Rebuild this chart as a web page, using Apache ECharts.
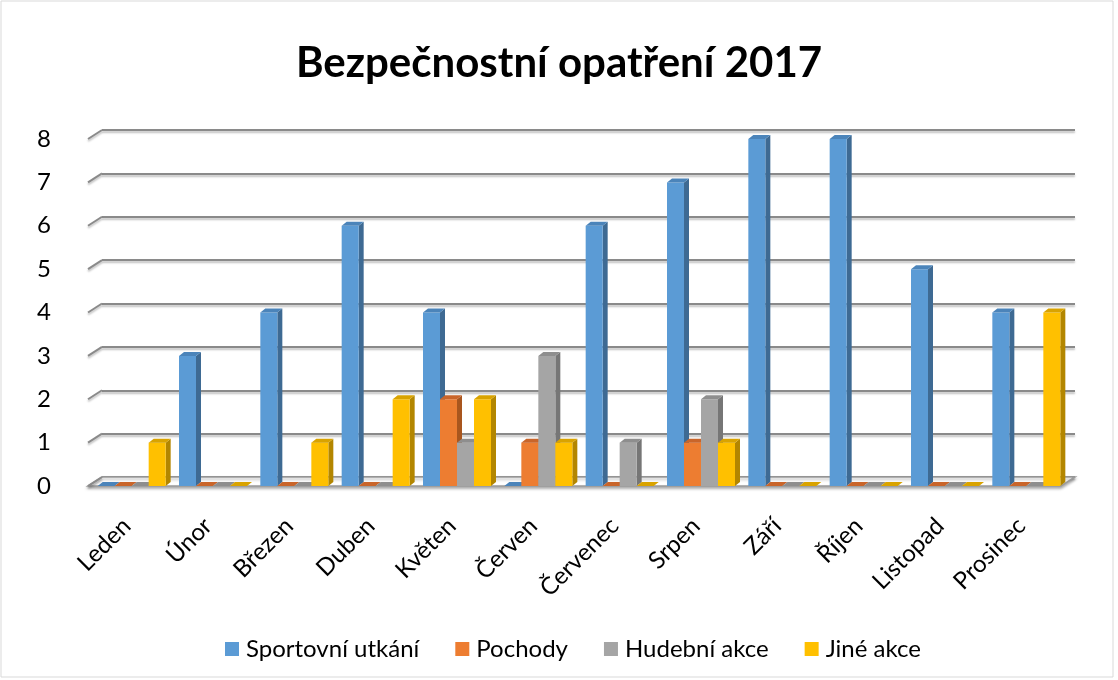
<!DOCTYPE html>
<html>
<head>
<meta charset="utf-8">
<script src="https://cdn.jsdelivr.net/npm/echarts@6/dist/echarts.min.js"></script>
<style>
html, body { margin: 0; padding: 0; background: #fff; }
#chart { width: 1118px; height: 680px; }
</style>
</head>
<body>
<div id="chart"></div>
<script>
var months = ['Leden', 'Únor', 'Březen', 'Duben', 'Květen', 'Červen', 'Červenec', 'Srpen', 'Září', 'Říjen', 'Listopad', 'Prosinec'];
var sportovni = [0, 3, 4, 6, 4, 0, 6, 7, 8, 8, 5, 4];
var pochody = [0, 0, 0, 0, 2, 1, 0, 1, 0, 0, 0, 0];
var hudebni = [0, 0, 0, 0, 1, 3, 1, 2, 0, 0, 0, 0];
var jine = [1, 0, 1, 2, 2, 1, 0, 1, 0, 0, 0, 4];
var yTicks = [0, 1, 2, 3, 4, 5, 6, 7, 8];

var names = ['Sportovní utkání', 'Pochody', 'Hudební akce', 'Jiné akce'];
var values = [sportovni, pochody, hudebni, jine];
var frontCol = ['#5B9BD5', '#ED7D31', '#A5A5A5', '#FFC000'];
var sideCol = ['#3E6A93', '#A9561E', '#767676', '#B38600'];
var topCol = ['#4B84BA', '#C9652A', '#8E8E8E', '#D9A300'];

var FONT = 'Lato';
var DX = 5, DY = 4;        // bar depth
var WX = 14, WY = 9;       // wall depth (front edge -> back wall)

var chart = echarts.init(document.getElementById('chart'));

function bar3d(k) {
    return function (params, api) {
        var i = api.value(0), v = api.value(1);
        var p = api.coord([i, v]);
        var p0 = api.coord([i, 0]);
        var band = api.size([1, 0])[0];
        var gw = band * 0.836, w = gw / 4;
        var x = p[0] - gw / 2 + k * w;
        var yT = p[1], yB = p0[1];
        return {
            type: 'group',
            children: [
                { type: 'polygon', shape: { points: [[x + w, yT], [x + w + DX, yT - DY], [x + w + DX, yB - DY], [x + w, yB]] }, style: { fill: sideCol[k] } },
                { type: 'rect', shape: { x: x, y: yT, width: w, height: yB - yT }, style: { fill: frontCol[k] } },
                { type: 'polygon', shape: { points: [[x, yT], [x + DX, yT - DY], [x + w + DX, yT - DY], [x + w, yT]] }, style: { fill: topCol[k] } }
            ]
        };
    };
}

// rotated month labels under each category
function monthLabel(params, api) {
    var i = api.value(0);
    var p = api.coord([i, 0]);
    return {
        type: 'text',
        x: p[0] - 5,
        y: p[1] + 36,
        rotation: Math.PI / 4,
        style: {
            text: months[i],
            align: 'right',
            verticalAlign: 'middle',
            fontFamily: FONT,
            fontSize: 24,
            fill: '#000'
        }
    };
}

// left wall edges + floor, drawn on the back grid
function wallItem(params, api) {
    var t = api.value(1);
    var p = api.coord([0, t]);
    var pr = api.coord([1, t]);
    var kids = [{
        type: 'line',
        shape: { x1: p[0], y1: p[1], x2: p[0] - WX, y2: p[1] + WY },
        style: { stroke: '#8a8a8a', lineWidth: 2, shadowColor: 'rgba(0,0,0,0.25)', shadowOffsetY: 2, shadowBlur: 2 }
    }];
    if (t === 0) {
        kids.unshift({
            type: 'polygon',
            shape: { points: [[p[0], p[1]], [pr[0], pr[1]], [pr[0] - WX, pr[1] + WY], [p[0] - WX, p[1] + WY]] },
            style: { fill: '#ffffff', stroke: '#9a9a9a', lineWidth: 1.5, shadowColor: 'rgba(0,0,0,0.3)', shadowOffsetY: 2, shadowBlur: 3 }
        });
    }
    return { type: 'group', children: kids };
}

var series = [{
    type: 'custom',
    xAxisIndex: 1,
    yAxisIndex: 1,
    renderItem: wallItem,
    data: yTicks.map(function (t) { return [0, t]; }),
    silent: true,
    z: 1
}, {
    type: 'custom',
    xAxisIndex: 0,
    yAxisIndex: 0,
    renderItem: monthLabel,
    data: months.map(function (m, i) { return [i, 0]; }),
    silent: true,
    clip: false,
    z: 2
}];
names.forEach(function (n, k) {
    series.push({
        name: n,
        type: 'custom',
        xAxisIndex: 0,
        yAxisIndex: 0,
        renderItem: bar3d(k),
        itemStyle: { color: frontCol[k] },
        data: values[k].map(function (v, i) { return [i, v]; }),
        z: 5 + k
    });
});

chart.setOption({
    animation: false,
    backgroundColor: '#ffffff',
    textStyle: { fontFamily: FONT },
    title: {
        text: 'Bezpečnostní opatření 2017',
        left: 'center',
        top: 37,
        textStyle: { fontFamily: FONT, fontSize: 42, fontWeight: 'bold', color: '#000' }
    },
    legend: {
        data: names,
        top: 632,
        left: 220,
        icon: 'rect',
        itemWidth: 14,
        itemHeight: 14,
        itemGap: 36,
        textStyle: { fontFamily: FONT, fontSize: 24, color: '#000', padding: [0, 0, 0, 2] }
    },
    graphic: [{
        type: 'rect',
        shape: { x: 1, y: 1, width: 1112, height: 676 },
        style: { fill: 'none', stroke: '#d9d9d9', lineWidth: 1 },
        silent: true
    }],
    grid: [
        { left: 91, right: 51, top: 139, bottom: 194 },
        { left: 102, right: 43, top: 130, bottom: 203 }
    ],
    xAxis: [
        { type: 'category', gridIndex: 0, data: months, axisLine: { show: false }, axisTick: { show: false }, axisLabel: { show: false } },
        { type: 'value', gridIndex: 1, min: 0, max: 1, show: false }
    ],
    yAxis: [
        {
            type: 'value', gridIndex: 0, min: 0, max: 8, interval: 1,
            axisLine: { show: false }, axisTick: { show: false }, splitLine: { show: false },
            axisLabel: { margin: 40, padding: [6, 0, 0, 0], fontFamily: FONT, fontSize: 24, color: '#000' }
        },
        {
            type: 'value', gridIndex: 1, min: 0, max: 8, interval: 1,
            axisLine: { show: false }, axisTick: { show: false }, axisLabel: { show: false },
            splitLine: { show: true, lineStyle: { color: '#8a8a8a', width: 2, shadowColor: 'rgba(0,0,0,0.25)', shadowOffsetY: 2, shadowBlur: 2 } }
        }
    ],
    series: series
});
</script>
</body>
</html>
